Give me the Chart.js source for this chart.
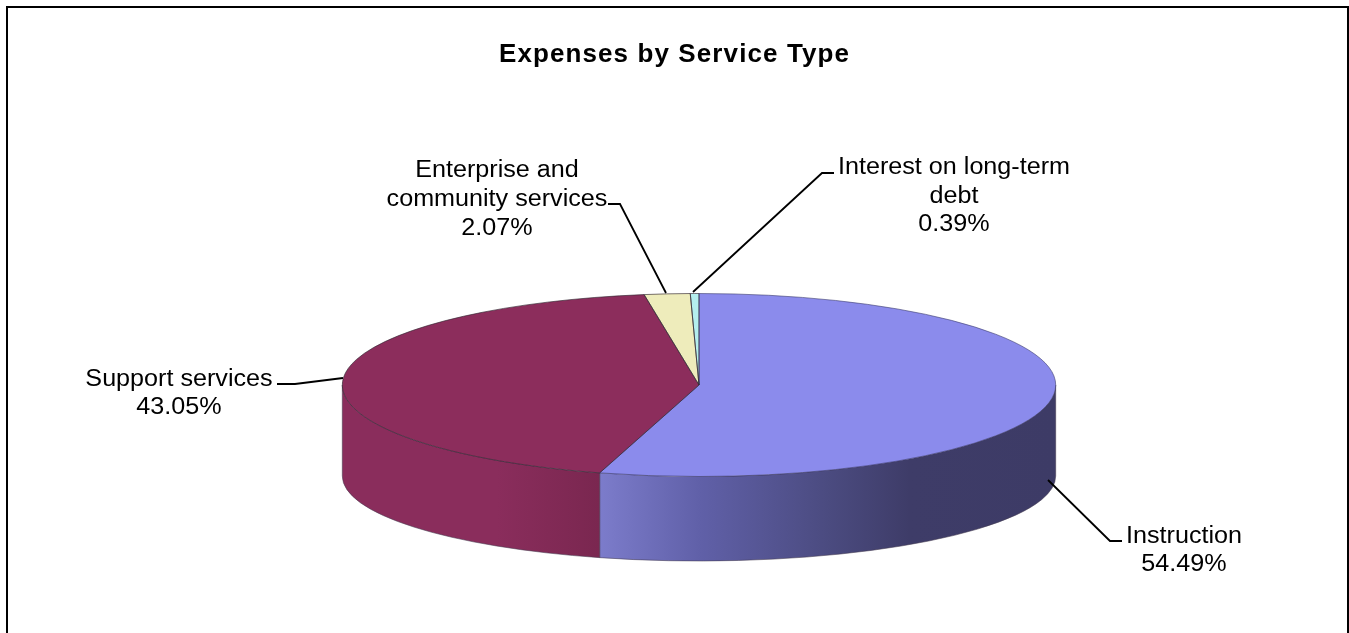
<!DOCTYPE html>
<html>
<head>
<meta charset="utf-8">
<title>Expenses by Service Type</title>
<script src="https://cdn.jsdelivr.net/npm/chart.js@4"></script>
<style>
  html, body { margin: 0; padding: 0; background: #fff; overflow: hidden; }
  canvas { display: block; }
</style>
</head>
<body>
<canvas id="chart" width="1349" height="633"></canvas>
<script>
const categories = ['Instruction', 'Support services', 'Enterprise and community services', 'Interest on long-term debt'];
const shares = [54.49, 43.05, 2.07, 0.39];
const topColors = ['#8b8bec', '#8c2d5c', '#eeecbb', '#b4eeee'];
const chartTitle = 'Expenses by Service Type';

// Wrapped label text, one entry per category
const labelLines = [
  ['Instruction'],
  ['Support services'],
  ['Enterprise and', 'community services'],
  ['Interest on long-term', 'debt']
];

const FONT = '"Liberation Sans", Arial, sans-serif';
const RADIUS_X = 356.7;
const RADIUS_Y = 91.5;
const PIE_SHIFT = 24.5;    // pie sits right of the centred title
const BASE_DROP = 91;      // base ellipse centre below the top face centre
const BASE_RADIUS_Y = 85;  // the far rim looks a little flatter
const LABEL_WIDEN = 1.07;  // horizontal stretch of the label type

// Gradient stops for the rim of the two slices that face the viewer
const rimStops = [
  [[0, '#7c7ccb'], [0.22, '#6060a8'], [0.5, '#4b4b80'], [0.68, '#3e3c68'], [1, '#3d3b66']],
  [[0, '#8a2d5c'], [0.6, '#8a2d5c'], [1, '#7a2750']]
];

// Label placement: centre x, first line centre y, line pitch, leader polyline
const labelLayout = [
  { x: 1184, y: 537, pitch: 27.5, leader: [[1122, 541], [1110, 541], [1048, 480]] },
  { x: 179, y: 379.5, pitch: 28, leader: [[277, 384], [295, 384], [343, 378]] },
  { x: 497, y: 171, pitch: 28.7, leader: [[608, 204], [620, 204], [666, 293]] },
  { x: 954, y: 168, pitch: 28.5, leader: [[834, 173], [822, 173], [693, 292]] }
];

// Tilted pie: the library's arcs are drawn through a vertical squash,
// with the rim painted underneath them from the same arc geometry.
const tiltedPie = {
  id: 'tiltedPie',
  beforeDraw(chart) {
    const { ctx } = chart;
    ctx.save();
    ctx.strokeStyle = '#000';
    ctx.lineWidth = 2;
    ctx.beginPath();
    ctx.moveTo(7, 633);
    ctx.lineTo(7, 7);
    ctx.lineTo(1348, 7);
    ctx.lineTo(1348, 633);
    ctx.stroke();
    ctx.restore();
    // The title is drawn next and picks up this tracking
    ctx.letterSpacing = '1.1px';
  },
  beforeDatasetsDraw(chart) {
    const { ctx } = chart;
    ctx.letterSpacing = '0px';
    const arcs = chart.getDatasetMeta(0).data;
    const cx = arcs[0].x + PIE_SHIFT, cy = arcs[0].y;

    arcs.forEach((arc, i) => {
      const stops = rimStops[i];
      if (!stops) return;
      const start = Math.max(arc.startAngle, 0);
      const end = Math.min(arc.endAngle, Math.PI);
      if (end <= start) return;
      const x0 = cx + RADIUS_X * Math.cos(end);
      const x1 = cx + RADIUS_X * Math.cos(start);
      const grad = ctx.createLinearGradient(x0, 0, x1, 0);
      stops.forEach(s => grad.addColorStop(s[0], s[1]));
      ctx.save();
      ctx.beginPath();
      ctx.ellipse(cx, cy, RADIUS_X, RADIUS_Y, 0, start, end, false);
      ctx.ellipse(cx, cy + BASE_DROP, RADIUS_X, BASE_RADIUS_Y, 0, end, start, true);
      ctx.closePath();
      ctx.fillStyle = grad;
      ctx.fill();
      ctx.lineWidth = 1;
      ctx.strokeStyle = 'rgba(70,60,80,0.55)';
      ctx.stroke();
      ctx.restore();
    });

    const squash = RADIUS_Y / RADIUS_X;
    ctx.save();
    ctx.translate(PIE_SHIFT, cy);
    ctx.scale(1, squash);
    ctx.translate(0, -cy);
  },
  afterDatasetsDraw(chart) {
    const { ctx } = chart;
    ctx.restore();
    const arcs = chart.getDatasetMeta(0).data;
    const cx = arcs[0].x + PIE_SHIFT, cy = arcs[0].y;

    // Thin slice outlines, drawn unsquashed so their weight stays even
    ctx.save();
    ctx.lineWidth = 1;
    ctx.lineJoin = 'round';
    arcs.forEach((arc, i) => {
      ctx.beginPath();
      ctx.moveTo(cx, cy);
      ctx.ellipse(cx, cy, RADIUS_X, RADIUS_Y, 0, arc.startAngle, arc.endAngle, false);
      ctx.closePath();
      ctx.strokeStyle = i === 0 ? 'rgba(60,60,110,0.6)' : 'rgba(50,40,50,0.65)';
      ctx.stroke();
    });
    ctx.restore();

    // Leader lines and labels
    ctx.save();
    ctx.fillStyle = '#000';
    ctx.strokeStyle = '#000';
    ctx.lineWidth = 1.8;
    ctx.font = '23.5px ' + FONT;
    ctx.textAlign = 'center';
    ctx.textBaseline = 'middle';
    labelLayout.forEach((place, i) => {
      ctx.beginPath();
      place.leader.forEach((pt, j) => j ? ctx.lineTo(pt[0], pt[1]) : ctx.moveTo(pt[0], pt[1]));
      ctx.stroke();
      const lines = labelLines[i].concat(shares[i].toFixed(2) + '%');
      lines.forEach((text, j) => {
        ctx.save();
        ctx.translate(place.x, place.y + j * place.pitch);
        ctx.scale(LABEL_WIDEN, 1);
        ctx.fillText(text, 0, 0);
        ctx.restore();
      });
    });
    ctx.restore();
  }
};

new Chart(document.getElementById('chart'), {
  type: 'pie',
  data: {
    labels: categories,
    datasets: [{
      data: shares,
      backgroundColor: topColors,
      borderWidth: 0
    }]
  },
  plugins: [tiltedPie],
  options: {
    responsive: false,
    animation: false,
    radius: RADIUS_X,
    rotation: 0,
    plugins: {
      legend: { display: false },
      tooltip: { enabled: false },
      title: {
        display: true,
        text: chartTitle,
        color: '#000',
        font: { family: FONT, size: 26, weight: 'bold' },
        padding: { top: 39.4, bottom: 66.4 }
      }
    }
  }
});
</script>
</body>
</html>
